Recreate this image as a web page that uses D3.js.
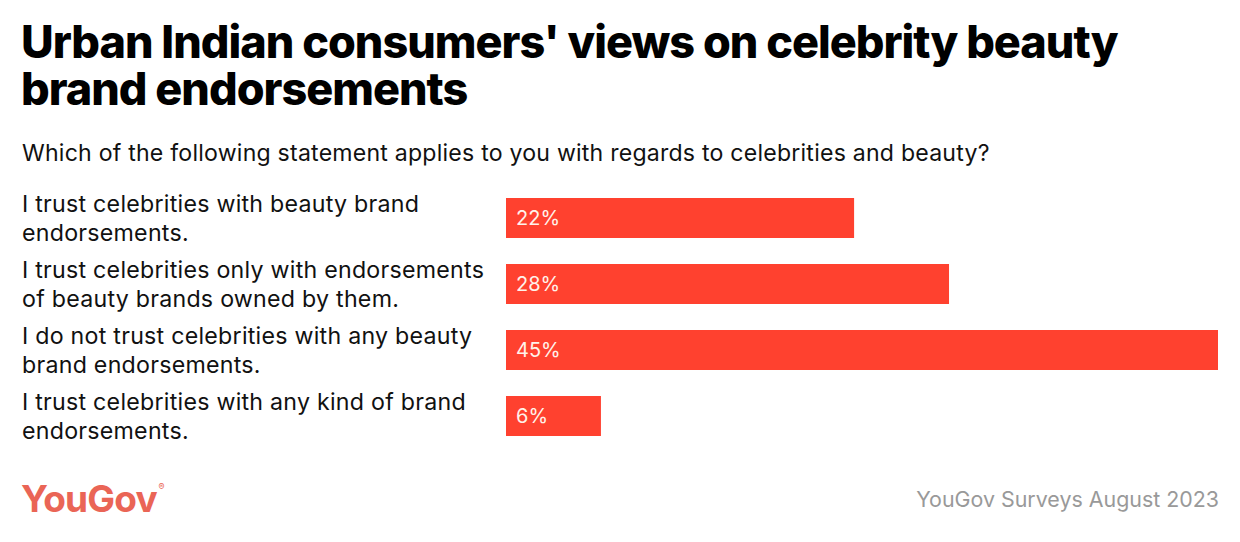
<!DOCTYPE html>
<html>
<head>
<meta charset="utf-8">
<script src="https://cdn.jsdelivr.net/npm/d3@7"></script>
<style>
  html, body { margin: 0; padding: 0; background: #fff; }
  svg { display: block; }
</style>
</head>
<body>
<svg id="chart" width="1240" height="542"></svg>
<script>
const categories = [
  ["I trust celebrities with beauty brand", "endorsements."],
  ["I trust celebrities only with endorsements", "of beauty brands owned by them."],
  ["I do not trust celebrities with any beauty", "brand endorsements."],
  ["I trust celebrities with any kind of brand", "endorsements."]
];
const values = [22, 28, 45, 6];
const valueLabels = ["22%", "28%", "45%", "6%"];

const titleLines = ["Urban Indian consumers' views on celebrity beauty", "brand endorsements"];
const subtitle = "Which of the following statement applies to you with regards to celebrities and beauty?";
const source = "YouGov Surveys August 2023";
const brand = "YouGov";

const W = 1240, H = 542;
const svg = d3.select("#chart");
const font = "Inter, 'Noto Sans', sans-serif";

// Title (one text block, two lines)
svg.append("text")
  .attr("font-family", font).attr("font-weight", 800).attr("font-size", 45)
  .attr("letter-spacing", -1.0).attr("fill", "#000")
  .selectAll("tspan").data(titleLines).join("tspan")
  .attr("x", 21).attr("y", (d, i) => 58 + i * 47)
  .text(d => d);

svg.append("text").attr("x", 22).attr("y", 161)
  .attr("font-family", font).attr("font-size", 23.1).attr("letter-spacing", 0.22).attr("fill", "#111")
  .text(subtitle);

const x = d3.scaleLinear().domain([0, 45]).range([506, 1218]);
const idx = d3.range(values.length);
const y0 = 185;
const yb = d3.scaleBand().domain(idx).range([y0, y0 + 66 * 4]).paddingInner(26/66).paddingOuter(13/66);

const rows = svg.append("g").selectAll("g").data(idx).join("g");

rows.append("rect")
  .attr("x", x(0)).attr("y", i => yb(i))
  .attr("width", i => x(values[i]) - x(0)).attr("height", yb.bandwidth())
  .attr("fill", "#ff412f");

rows.append("text")
  .attr("x", x(0) + 10).attr("y", i => yb(i) + yb.bandwidth() / 2 + 7)
  .attr("font-family", font).attr("font-size", 20).attr("fill", "#fff2ea")
  .text(i => valueLabels[i]);

rows.each(function(i) {
  const g = d3.select(this);
  const cy = yb(i) + yb.bandwidth() / 2;
  g.append("text")
    .attr("font-family", font).attr("font-size", 23.2).attr("letter-spacing", 0.25).attr("fill", "#111")
    .selectAll("tspan").data(categories[i]).join("tspan")
    .attr("x", 22).attr("y", (d, j) => cy - 6 + j * 29)
    .text(d => d);
});

// Footer
const logo = svg.append("text").attr("x", 21).attr("y", 512)
  .attr("font-family", font).attr("font-weight", 700).attr("font-size", 37)
  .attr("letter-spacing", -0.8)
  .attr("fill", "#ea6556").text(brand);
const lb = logo.node().getBBox();
svg.append("text").attr("x", lb.x + lb.width + 1).attr("y", 490)
  .attr("font-family", font).attr("font-size", 9).attr("fill", "#ea6556").text("®");

svg.append("text").attr("x", 1219).attr("y", 507).attr("text-anchor", "end")
  .attr("font-family", font).attr("font-size", 21.4).attr("fill", "#999")
  .text(source);
</script>
</body>
</html>
